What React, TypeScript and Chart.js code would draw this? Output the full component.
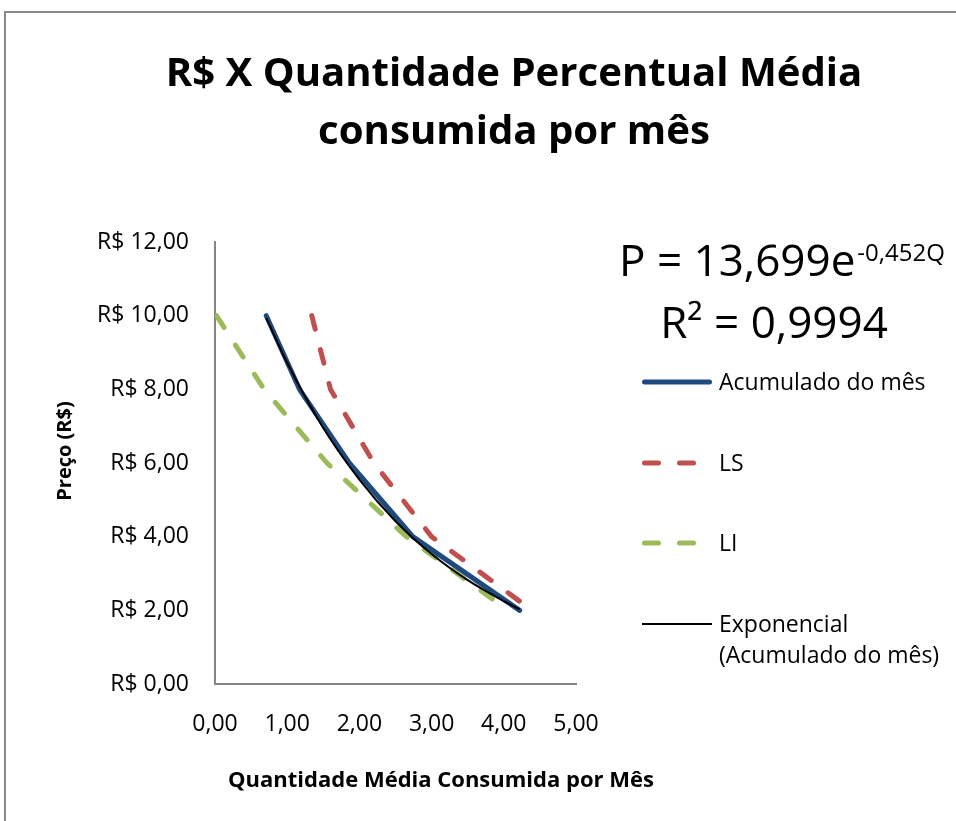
import React, { useEffect, useRef } from "react";
import { Chart, registerables } from "chart.js";

Chart.register(...registerables);

// ---- Data ----
const acumuladoQ = [0.71, 1.17, 1.86, 2.74, 4.22];
const acumuladoP = [10, 8, 6, 4, 2];
const lsQ = [1.34, 1.6, 2.2, 3.0, 4.39];
const lsP = [10, 8, 6, 4, 2];
const liQ = [0.02, 0.68, 1.55, 2.65, 4.06];
const liP = [10, 8, 6, 4, 2];
const trendQ = [0.71, 1.0, 1.5, 2.0, 2.5, 3.0, 3.5, 4.0, 4.22];
const trendP = [9.94, 8.72, 6.95, 5.55, 4.42, 3.53, 2.82, 2.25, 2.03];

const yTickLabels = ["R$ 0,00", "R$ 2,00", "R$ 4,00", "R$ 6,00", "R$ 8,00", "R$ 10,00", "R$ 12,00"];
const xTickLabels = ["0,00", "1,00", "2,00", "3,00", "4,00", "5,00"];

const titleLines = ["R$ X Quantidade Percentual Média", "consumida por mês"];
const xAxisTitle = "Quantidade Média Consumida por Mês";
const yAxisTitle = "Preço (R$)";
const seriesNames = ["Acumulado do mês", "LS", "LI", "Exponencial (Acumulado do mês)"];
const trendLegendLines = ["Exponencial", "(Acumulado do mês)"];
const equationMain = "P = 13,699e";
const equationSup = "-0,452Q";
const equationR2 = "R² = 0,9994";

const FONT = "'Open Sans', 'Noto Sans', sans-serif";
const BLUE = "#1F4A7E";
const RED = "#C0504D";
const GREEN = "#9BBB59";
const AXIS = "#868686";

const toPts = (xs: number[], ys: number[]) => xs.map((x, i) => ({ x, y: ys[i] }));

const overlay = {
  id: "overlay",
  beforeDraw(chart: any) {
    const ctx = chart.ctx as CanvasRenderingContext2D;
    ctx.save();
    ctx.fillStyle = "#ffffff";
    ctx.fillRect(0, 0, chart.width, chart.height);
    ctx.strokeStyle = "#8a8a8a";
    ctx.lineWidth = 2;
    ctx.beginPath();
    ctx.moveTo(5, chart.height);
    ctx.lineTo(5, 12);
    ctx.lineTo(chart.width, 12);
    ctx.stroke();
    ctx.restore();
  },
  afterDraw(chart: any) {
    const ctx = chart.ctx as CanvasRenderingContext2D;
    ctx.save();
    ctx.fillStyle = "#000";
    ctx.textBaseline = "alphabetic";

    // Title
    ctx.font = `bold 40px ${FONT}`;
    const w1 = ctx.measureText(titleLines[0]).width;
    const tSize = (40 * 697) / w1;
    ctx.font = `bold ${tSize}px ${FONT}`;
    ctx.textAlign = "center";
    ctx.fillText(titleLines[0], 514, 86);
    ctx.fillText(titleLines[1], 514, 144);

    // Axis titles
    ctx.font = `bold 22px ${FONT}`;
    ctx.fillText(xAxisTitle, 441, 787);
    ctx.save();
    ctx.translate(65, 451);
    ctx.rotate(-Math.PI / 2);
    ctx.textBaseline = "middle";
    ctx.font = `bold 20px ${FONT}`;
    ctx.fillText(yAxisTitle, 0, 0);
    ctx.restore();

    // Equation
    ctx.textAlign = "left";
    ctx.font = `44px ${FONT}`;
    ctx.fillText(equationMain, 619, 276);
    const wm = ctx.measureText(equationMain).width;
    ctx.font = `24px ${FONT}`;
    ctx.fillText(equationSup, 619 + wm + 2, 261);
    ctx.font = `44px ${FONT}`;
    ctx.textAlign = "center";
    ctx.fillText(equationR2, 774, 338);

    // Legend
    const tx = 719;
    const drawLine = (y: number, color: string, width: number, dash: number[]) => {
      ctx.save();
      ctx.strokeStyle = color;
      ctx.lineWidth = width;
      ctx.lineCap = width > 3 ? "round" : "butt";
      ctx.setLineDash(dash);
      ctx.beginPath();
      if (width > 3) {
        ctx.moveTo(644.5, y);
        ctx.lineTo(dash.length ? 714.5 : 709.5, y);
      } else {
        ctx.moveTo(642, y);
        ctx.lineTo(712, y);
      }
      ctx.stroke();
      ctx.restore();
    };
    drawLine(382, BLUE, 5, []);
    drawLine(463, RED, 5, [14, 21]);
    drawLine(543, GREEN, 5, [14, 21]);
    drawLine(624, "#000", 2, []);
    ctx.textAlign = "left";
    ctx.font = `23px ${FONT}`;
    ctx.fillText(seriesNames[0], tx, 390);
    ctx.fillText(seriesNames[1], tx, 471);
    ctx.fillText(seriesNames[2], tx, 551);
    ctx.fillText(trendLegendLines[0], tx, 632);
    ctx.fillText(trendLegendLines[1], tx, 663);
    ctx.restore();
  },
};

export default function App() {
  const ref = useRef<HTMLCanvasElement | null>(null);

  useEffect(() => {
    if (!ref.current) return;
    const tickFont = { family: FONT, size: 23 };
    const chart = new Chart(ref.current, {
      type: "line",
      data: {
        datasets: [
          {
            label: seriesNames[3],
            data: toPts(trendQ, trendP),
            borderColor: "#000",
            borderWidth: 2,
            pointRadius: 0,
            cubicInterpolationMode: "monotone",
            order: 0,
          },
          {
            label: seriesNames[0],
            data: toPts(acumuladoQ, acumuladoP),
            borderColor: BLUE,
            borderWidth: 5,
            pointRadius: 0,
            tension: 0,
            borderJoinStyle: "round",
            borderCapStyle: "round",
            order: 1,
          },
          {
            label: seriesNames[1],
            data: toPts(lsQ, lsP),
            borderColor: RED,
            borderWidth: 5,
            pointRadius: 0,
            tension: 0,
            borderDash: [14, 21],
            borderCapStyle: "round",
            borderJoinStyle: "round",
            order: 2,
          },
          {
            label: seriesNames[2],
            data: toPts(liQ, liP),
            borderColor: GREEN,
            borderWidth: 5,
            pointRadius: 0,
            tension: 0,
            borderDash: [14, 21],
            borderCapStyle: "round",
            borderJoinStyle: "round",
            order: 3,
          },
        ],
      } as any,
      options: {
        responsive: false,
        animation: false,
        events: [],
        layout: { padding: { left: 0, top: 242, right: 380, bottom: 0 } },
        plugins: {
          legend: { display: false },
          title: { display: false },
          tooltip: { enabled: false },
        },
        scales: {
          x: {
            type: "linear",
            min: 0,
            max: 5,
            grid: { display: false, drawTicks: false },
            border: { display: true, color: AXIS, width: 2 },
            ticks: {
              stepSize: 1,
              padding: 27,
              maxRotation: 0,
              autoSkip: false,
              color: "#000",
              font: tickFont,
              callback: (v: any) => xTickLabels[Math.round(Number(v))] ?? "",
            },
            afterFit: (s: any) => {
              s.height = 137;
              s.paddingLeft = 0;
              s.paddingRight = 0;
            },
          },
          y: {
            type: "linear",
            min: 0,
            max: 12,
            grid: { display: false, drawTicks: false },
            border: { display: true, color: AXIS, width: 2 },
            ticks: {
              stepSize: 2,
              padding: 26,
              autoSkip: false,
              color: "#000",
              font: tickFont,
              callback: (v: any) => yTickLabels[Math.round(Number(v) / 2)] ?? "",
            },
            afterFit: (s: any) => {
              s.width = 215;
              s.paddingTop = 0;
              s.paddingBottom = 0;
            },
          },
        },
      } as any,
      plugins: [overlay],
    });
    return () => chart.destroy();
  }, []);

  return (
    <div style={{ position: "absolute", left: 0, top: 0, width: 956, height: 821, overflow: "hidden", background: "#fff" }}>
      <canvas ref={ref} width={956} height={821} style={{ display: "block", width: 956, height: 821 }} />
    </div>
  );
}
